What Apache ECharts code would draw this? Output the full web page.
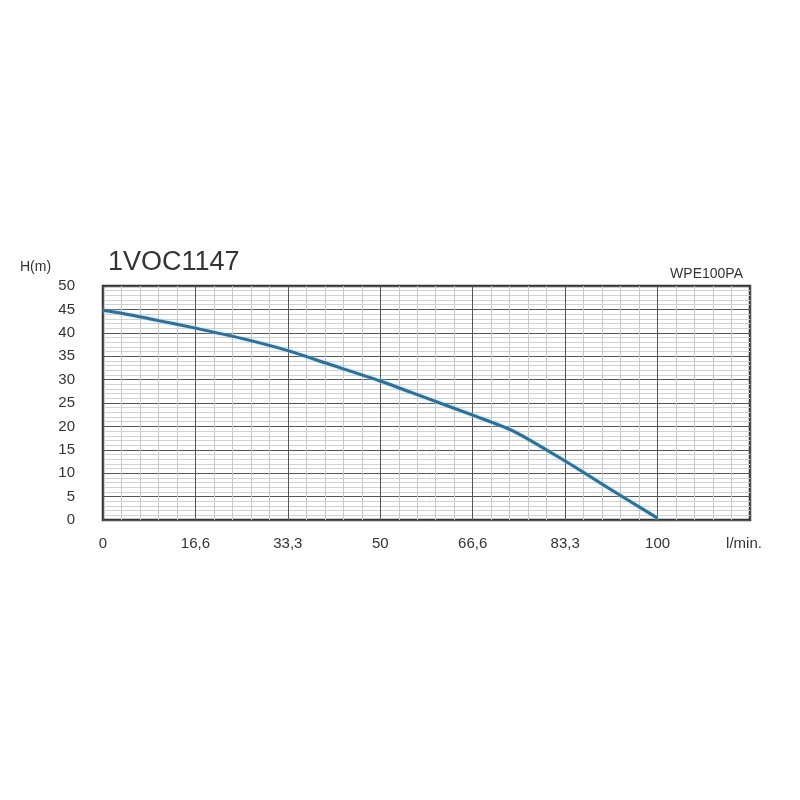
<!DOCTYPE html>
<html>
<head>
<meta charset="utf-8">
<script src="https://cdn.jsdelivr.net/npm/echarts@6/dist/echarts.min.js"></script>
<style>html,body{margin:0;padding:0;background:#fff;}#c{width:800px;height:800px;}</style>
</head>
<body>
<div id="c"></div>
<script>
var flowValues = [0, 5, 10, 16.67, 25, 33.33, 40, 50, 58, 66.67, 74, 83.33, 92, 100];
var headValues = [44.8, 43.8, 42.6, 41.0, 38.8, 36.2, 33.6, 29.7, 26.2, 22.4, 19.0, 12.6, 6.2, 0.4];
var xTickLabels = ['0', '16,6', '33,3', '50', '66,6', '83,3', '100', 'l/min.'];
var yTickLabels = ['0', '5', '10', '15', '20', '25', '30', '35', '40', '45', '50'];
var titleText = '1VOC1147';
var modelText = 'WPE100PA';
var yAxisName = 'H(m)';

var step = 100 / 6;
var data = flowValues.map(function (x, i) { return [x, headValues[i]]; });
var font = 'Liberation Sans, Arial, sans-serif';

var chart = echarts.init(document.getElementById('c'), null, {renderer: 'canvas'});
chart.setOption({
  backgroundColor: '#fff',
  animation: false,
  title: [
    {text: titleText, left: 103, top: 244, textStyle: {fontFamily: font, fontSize: 27, fontWeight: 'normal', color: '#333'}},
    {text: yAxisName, left: 15, top: 255, textStyle: {fontFamily: font, fontSize: 14, fontWeight: 'normal', color: '#333'}},
    {text: modelText, right: 52, top: 262, textStyle: {fontFamily: font, fontSize: 14, fontWeight: 'normal', color: '#333'}}
  ],
  grid: {left: 103, right: 50, top: 286, bottom: 280, show: true, borderColor: '#333', borderWidth: 2.5, containLabel: false},
  xAxis: {
    type: 'value', min: 0, max: 7 * step, interval: step,
    axisLine: {show: false}, axisTick: {show: false},
    axisLabel: {
      margin: 16, color: '#333', fontFamily: font, fontSize: 15,
      showMaxLabel: true,
      formatter: function (v) {
        var i = Math.round(v / step);
        if (i === 7) { return '{u|' + xTickLabels[i] + '}'; }
        return xTickLabels[i] || '';
      },
      rich: {u: {fontFamily: font, fontSize: 15, color: '#333', padding: [0, 12, 0, 0]}}
    },
    splitLine: {show: true, lineStyle: {color: '#555', width: 1}},
    minorTick: {show: false, splitNumber: 5},
    minorSplitLine: {show: true, lineStyle: {color: '#c8c8c8', width: 1}}
  },
  yAxis: {
    type: 'value', min: 0, max: 50, interval: 5,
    axisLine: {show: false}, axisTick: {show: false},
    axisLabel: {
      margin: 28, color: '#333', fontFamily: font, fontSize: 15,
      formatter: function (v) { return yTickLabels[Math.round(v / 5)]; }
    },
    splitLine: {show: true, lineStyle: {color: '#555', width: 1}},
    minorTick: {show: false, splitNumber: 5},
    minorSplitLine: {show: true, lineStyle: {color: '#d2d2d2', width: 1}}
  },
  series: [{
    type: 'line', data: data, smooth: 0.25, symbol: 'none',
    lineStyle: {color: '#2f6f96', width: 3, shadowColor: '#9fd6ee', shadowBlur: 3}
  }]
});
</script>
</body>
</html>
